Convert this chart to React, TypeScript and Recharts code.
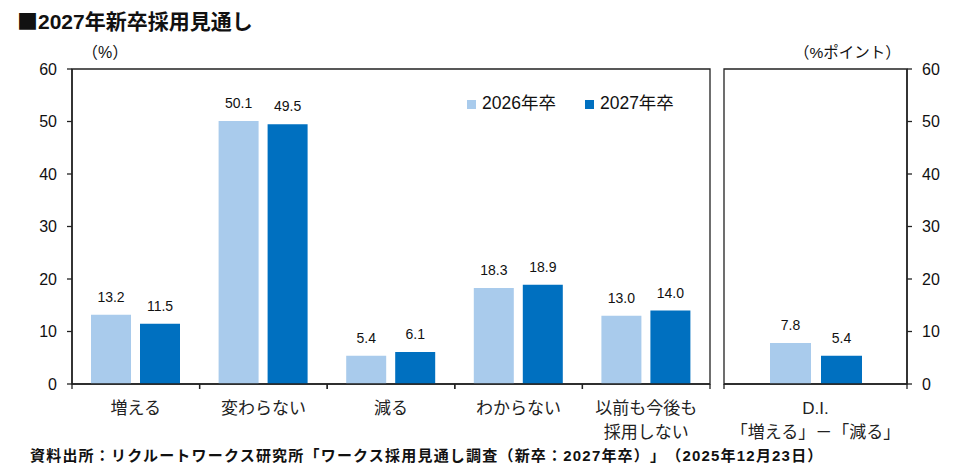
import React from "react";
import { BarChart, Bar, XAxis, YAxis, Legend, LabelList, ReferenceArea } from "recharts";

const categories = ["増える", "変わらない", "減る", "わからない", "以前も今後も\n採用しない"];
const values2026 = [13.2, 50.1, 5.4, 18.3, 13.0];
const values2027 = [11.5, 49.5, 6.1, 18.9, 14.0];
const diCategories = ["D.I.\n「増える」－「減る」"];
const di2026 = [7.8];
const di2027 = [5.4];
const yTicks = [0, 10, 20, 30, 40, 50, 60];
const seriesNames = ["2026年卒", "2027年卒"];

const mainData = categories.map((c, i) => ({ name: c, a: values2026[i], b: values2027[i] }));
const diData = diCategories.map((c, i) => ({ name: c, a: di2026[i], b: di2027[i] }));

const LIGHT = "#A9CBEC";
const DARK = "#0070C0";
const AX = "#222";
const FONT = '"Liberation Sans", "Noto Sans CJK JP", sans-serif';
const CJK = '"Noto Sans CJK JP", sans-serif';

const CatTick = (props: any) => {
  const { x, y, payload } = props;
  const half = payload && payload.offset ? payload.offset : 0;
  const lines = String(payload.value).split("\n");
  return (
    <g>
      <line x1={x - half} x2={x - half} y1={y} y2={y + 5} stroke={AX} strokeWidth={1.3} />
      <line x1={x + half} x2={x + half} y1={y} y2={y + 5} stroke={AX} strokeWidth={1.3} />
      <text x={x} y={y} textAnchor="middle" fontSize={17} fill="#222" fontFamily={FONT}>
        {lines.map((l, i) => (
          <tspan key={i} x={x} dy={i === 0 ? 30 : 24}>
            {l}
          </tspan>
        ))}
      </text>
    </g>
  );
};

const fmt = (v: any) => Number(v).toFixed(1);

export default function App() {
  return (
    <div
      style={{
        position: "absolute",
        left: 0,
        top: 0,
        width: 962,
        height: 476,
        fontFamily: FONT,
        color: "#111",
        background: "#fff",
        textSpacingTrim: "space-all",
      } as any}
    >
      <div style={{ position: "absolute", left: 17, top: 10, fontSize: 21, fontWeight: "bold", lineHeight: 1, whiteSpace: "nowrap" }}>
        <span style={{ fontFamily: CJK }}>■</span>2027年新卒採用見通し
      </div>
      <div style={{ position: "absolute", left: 82, top: 45, fontSize: 16, lineHeight: 1, whiteSpace: "nowrap" }}>（%）</div>
      <div style={{ position: "absolute", left: 794, top: 45, fontSize: 15.5, lineHeight: 1, whiteSpace: "nowrap" }}>（%ポイント）</div>

      <div style={{ position: "absolute", left: 0, top: 0 }}>
        <BarChart width={720} height={476} data={mainData} margin={{ top: 69, right: 10, bottom: 32, left: 0 }} barSize={40} barGap={9}>
          <XAxis xAxisId="cat" dataKey="name" tick={<CatTick />} tickLine={false} tickSize={0} tickMargin={0} axisLine={{ stroke: AX, strokeWidth: 1.5 }} height={60} interval={0} />
          <YAxis yAxisId="l" domain={[0, 60]} ticks={yTicks} width={72} tickSize={5} tickMargin={10} tick={{ fontSize: 16, fill: "#111" }} tickLine={{ stroke: AX, strokeWidth: 1.3 }} axisLine={{ stroke: AX, strokeWidth: 1.5 }} />
          <ReferenceArea xAxisId="cat" yAxisId="l" x1={categories[0]} x2={categories[categories.length - 1]} y1={0} y2={60} fill="none" stroke={AX} strokeWidth={1.3} ifOverflow="visible" />
          <Legend
            verticalAlign="middle"
            layout="horizontal"
            iconType="square"
            iconSize={9}
            wrapperStyle={{ top: 93, left: 467, width: "auto", lineHeight: "20px" }}
            formatter={(value: any) => (
              <span style={{ color: "#111", fontSize: 17.5, marginLeft: 2, marginRight: 19 }}>{value}</span>
            )}
          />
          <Bar xAxisId="cat" yAxisId="l" dataKey="a" name={seriesNames[0]} fill={LIGHT} isAnimationActive={false}>
            <LabelList dataKey="a" position="top" offset={13} fontSize={14} fill="#111" formatter={fmt} />
          </Bar>
          <Bar xAxisId="cat" yAxisId="l" dataKey="b" name={seriesNames[1]} fill={DARK} isAnimationActive={false}>
            <LabelList dataKey="b" position="top" offset={13} fontSize={14} fill="#111" formatter={fmt} />
          </Bar>
        </BarChart>
      </div>

      <div style={{ position: "absolute", left: 710, top: 0 }}>
        <BarChart width={252} height={476} data={diData} margin={{ top: 69, right: 0, bottom: 32, left: 14 }} barSize={41} barGap={10}>
          <XAxis xAxisId="cat" dataKey="name" tick={<CatTick />} tickLine={false} tickSize={0} tickMargin={0} axisLine={{ stroke: AX, strokeWidth: 1.5 }} height={60} interval={0} />
          <YAxis yAxisId="r" orientation="right" domain={[0, 60]} ticks={yTicks} width={55} tickSize={5} tickMargin={10} tick={{ fontSize: 16, fill: "#111" }} tickLine={{ stroke: AX, strokeWidth: 1.3 }} axisLine={{ stroke: AX, strokeWidth: 1.5 }} />
          <ReferenceArea xAxisId="cat" yAxisId="r" x1={diCategories[0]} x2={diCategories[0]} y1={0} y2={60} fill="none" stroke={AX} strokeWidth={1.3} ifOverflow="visible" />
          <Bar xAxisId="cat" yAxisId="r" dataKey="a" name={seriesNames[0]} fill={LIGHT} isAnimationActive={false}>
            <LabelList dataKey="a" position="top" offset={13} fontSize={14} fill="#111" formatter={fmt} />
          </Bar>
          <Bar xAxisId="cat" yAxisId="r" dataKey="b" name={seriesNames[1]} fill={DARK} isAnimationActive={false}>
            <LabelList dataKey="b" position="top" offset={13} fontSize={14} fill="#111" formatter={fmt} />
          </Bar>
        </BarChart>
      </div>

      <div style={{ position: "absolute", left: 30, top: 448, fontSize: 15, fontWeight: "bold", lineHeight: 1, letterSpacing: 1.2, whiteSpace: "nowrap" }}>
        資料出所：リクルートワークス研究所「ワークス採用見通し調査（新卒：2027年卒）」（2025年12月23日）
      </div>
    </div>
  );
}
